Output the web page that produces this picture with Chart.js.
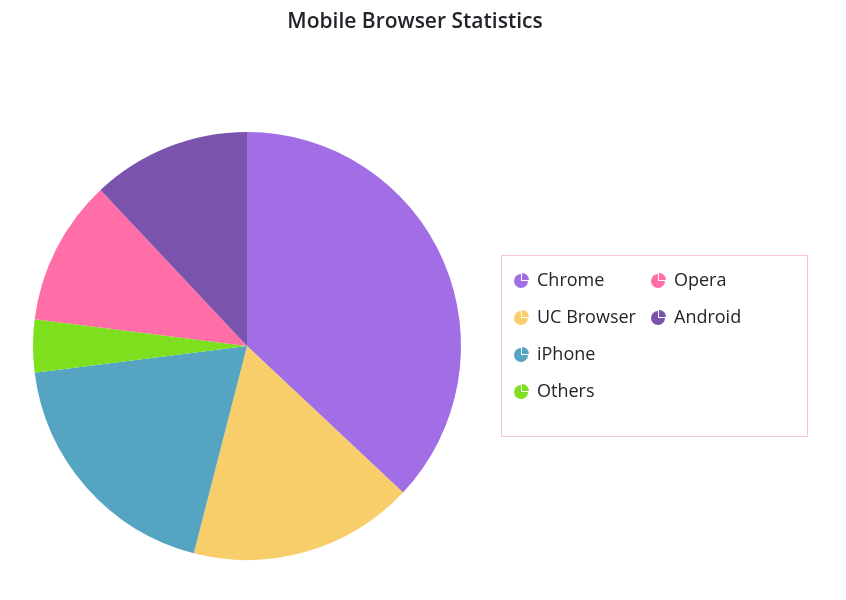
<!DOCTYPE html>
<html>
<head>
<meta charset="utf-8">
<script src="https://cdn.jsdelivr.net/npm/chart.js@4.4.0/dist/chart.umd.min.js"></script>
<style>
  body { margin: 0; background: #fff; }
  #wrap { width: 846px; height: 600px; }
</style>
</head>
<body>
<div id="wrap"><canvas id="chart"></canvas></div>
<script>
const labels = ['Chrome', 'UC Browser', 'iPhone', 'Others', 'Opera', 'Android'];
const shares = [37, 17, 19, 4, 11, 12];
const colors = ['#a16ee5', '#f7ce69', '#55a5c2', '#7ddf1e', '#ff6ea6', '#7953ac'];
const chartTitle = 'Mobile Browser Statistics';

// title + 2-column legend box drawn by hand (column-major like the original)
const extras = {
  id: 'extras',
  afterDraw(chart) {
    const ctx = chart.ctx;
    ctx.save();
    ctx.fillStyle = '#212529';
    ctx.font = '600 21px "Open Sans", sans-serif';
    ctx.textAlign = 'center';
    ctx.textBaseline = 'middle';
    ctx.fillText(chartTitle, 415, 22);

    ctx.strokeStyle = '#f7c4d5';
    ctx.lineWidth = 1;
    ctx.strokeRect(501.5, 255.5, 306, 181);

    ctx.font = '18px "Open Sans", sans-serif';
    ctx.textAlign = 'left';
    const items = chart.data.labels;
    const bg = chart.data.datasets[0].backgroundColor;
    items.forEach((name, i) => {
      const col = Math.floor(i / 4);
      const row = i % 4;
      const cx = col === 0 ? 521 : 658;
      const cy = 281 + row * 37;
      ctx.fillStyle = bg[i];
      ctx.beginPath();
      ctx.moveTo(cx, cy);
      ctx.arc(cx, cy, 7, 0, Math.PI * 1.5);
      ctx.closePath();
      ctx.fill();
      ctx.beginPath();
      ctx.moveTo(cx + 1, cy - 1);
      ctx.arc(cx + 1, cy - 1, 7, Math.PI * 1.5, Math.PI * 2);
      ctx.closePath();
      ctx.fill();
      ctx.fillStyle = '#212529';
      ctx.fillText(name, cx + 16, cy);
    });
    ctx.restore();
  }
};

new Chart('chart', {
  type: 'pie',
  data: {
    labels: labels,
    datasets: [{
      data: shares,
      backgroundColor: colors,
      borderWidth: 0
    }]
  },
  options: {
    responsive: true,
    maintainAspectRatio: false,
    animation: false,
    layout: { padding: { top: 132, left: 33, right: 385, bottom: 40 } },
    plugins: {
      legend: { display: false },
      title: { display: false },
      tooltip: { enabled: false }
    }
  },
  plugins: [extras]
});
</script>
</body>
</html>
